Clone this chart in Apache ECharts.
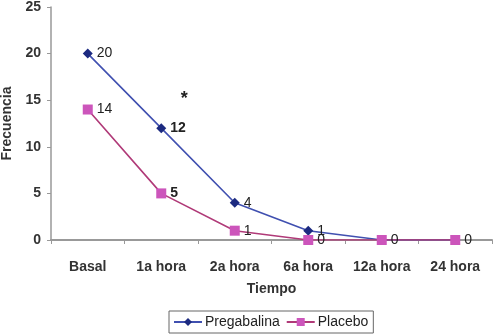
<!DOCTYPE html>
<html>
<head>
<meta charset="utf-8">
<script src="https://cdn.jsdelivr.net/npm/echarts@6/dist/echarts.min.js"></script>
<style>
  html, body { margin: 0; padding: 0; background: #fff; }
  #chart { width: 495px; height: 334px; }
</style>
</head>
<body>
<div id="chart"></div>
<script>
const categories = ['Basal', '1a hora', '2a hora', '6a hora', '12a hora', '24 hora']
const pregabalina = [20, 12, 4, 1, 0, 0]
const placebo = [14, 5, 1, 0, 0, 0]
// which point labels are bold in the original
const pregabalinaBold = [false, true, false, false, false, false]
const placeboBold = [false, true, false, false, false, false]
// pregabalina's zero labels sit under placebo's, so only show one
const pregabalinaShow = [true, true, true, true, false, false]

const chart = echarts.init(document.getElementById('chart'), null, { renderer: 'canvas' })

const font = 'Liberation Sans, Arial, sans-serif'

const makeData = (vals, bold, show) => vals.map((v, i) => ({
  value: v,
  label: {
    show: show ? show[i] : true,
    fontWeight: bold[i] ? 'bold' : 'normal'
  }
}))

const option = {
  animation: false,
  textStyle: { fontFamily: font },
  grid: {
    left: 51,
    right: 3,
    top: 7,
    bottom: 94,
    outerBoundsMode: 'none'
  },
  xAxis: {
    type: 'category',
    data: categories,
    name: 'Tiempo',
    nameLocation: 'middle',
    nameGap: 42,
    nameTextStyle: { fontWeight: 'bold', fontSize: 14, color: '#333' },
    axisLine: { lineStyle: { color: '#999', width: 2 } },
    axisTick: { show: true, length: 4, lineStyle: { color: '#999' } },
    axisLabel: { interval: 0, fontWeight: 'bold', fontSize: 14, color: '#333', margin: 20 }
  },
  yAxis: {
    type: 'value',
    min: 0,
    max: 25,
    interval: 5,
    name: 'Frecuencia',
    nameLocation: 'middle',
    nameGap: 32,
    nameTextStyle: { fontWeight: 'bold', fontSize: 14, color: '#333' },
    axisLine: { show: true, lineStyle: { color: '#999', width: 1.5 } },
    axisTick: { show: true, length: 4, lineStyle: { color: '#999' } },
    axisLabel: { fontWeight: 'bold', fontSize: 14, color: '#333', margin: 10 },
    splitLine: { show: false }
  },
  legend: {
    bottom: 1,
    left: 169,
    data: ['Pregabalina', 'Placebo'],
    itemWidth: 28,
    itemHeight: 10,
    itemGap: 6,
    padding: [4, 5, 4, 4],
    borderColor: '#666',
    borderWidth: 1,
    textStyle: { fontSize: 14, color: '#222', padding: [0, 0, 0, -2] }
  },
  series: [
    {
      name: 'Pregabalina',
      type: 'line',
      data: makeData(pregabalina, pregabalinaBold, pregabalinaShow),
      symbol: 'diamond',
      symbolSize: 10,
      z: 2,
      lineStyle: { color: '#4050b0', width: 1.6 },
      itemStyle: { color: '#1c2a80' },
      label: { show: true, position: 'right', distance: 4, fontSize: 14, color: '#222' },
      markPoint: {
        symbol: 'circle',
        symbolSize: 1,
        itemStyle: { color: 'rgba(0,0,0,0)' },
        data: [{ coord: ['1a hora', 15.5] }],
        label: { show: true, position: 'inside', formatter: '*', offset: [23, 3], fontSize: 18, fontWeight: 'bold', color: '#222' }
      }
    },
    {
      name: 'Placebo',
      type: 'line',
      data: makeData(placebo, placeboBold),
      symbol: 'rect',
      symbolSize: 10,
      z: 3,
      lineStyle: { color: '#b03a78', width: 1.6 },
      itemStyle: { color: '#cc55bb' },
      label: { show: true, position: 'right', distance: 4, fontSize: 14, color: '#222' }
    }
  ]
}

chart.setOption(option)
</script>
</body>
</html>
